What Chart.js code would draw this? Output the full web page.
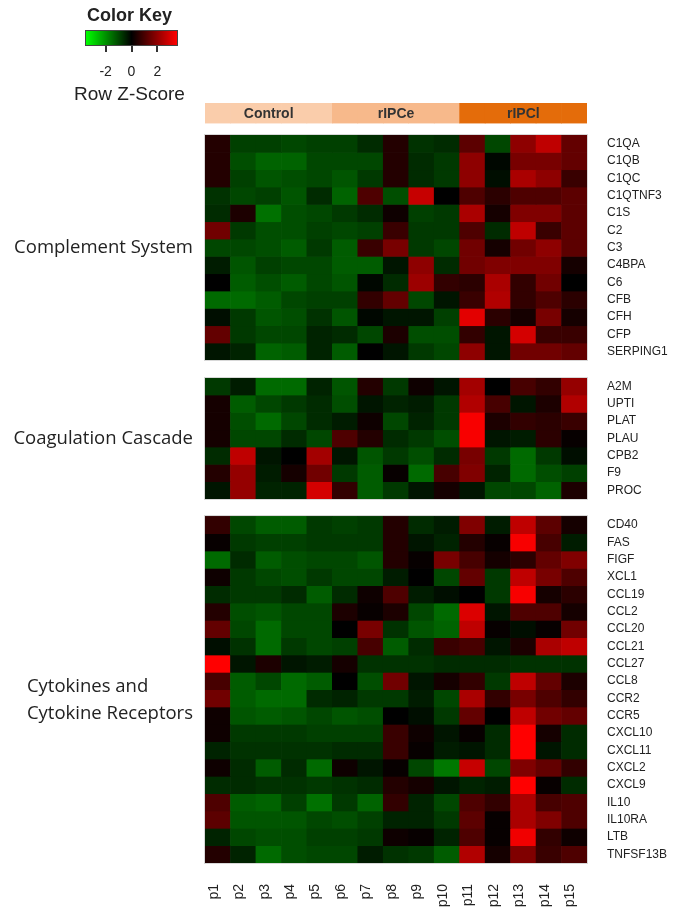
<!DOCTYPE html>
<html>
<head>
<meta charset="utf-8">
<script src="https://cdn.jsdelivr.net/npm/chart.js@4.4.0/dist/chart.umd.min.js"></script>
<style>
	html, body { margin: 0; padding: 0; background: #fff; }
	#wrap { position: relative; width: 677px; height: 918px; font-family: "Liberation Sans", Arial, sans-serif; color: #222; }
	#heat { position: absolute; left: 0; top: 0; }
	.key { position: absolute; white-space: nowrap; }
</style>
</head>
<body>
<div id="wrap">
	<canvas id="heat" width="677" height="918"></canvas>
	<div class="key" style="left:87px;top:5px;font-weight:bold;font-size:18px;">Color Key</div>
	<div class="key" id="keyBar" style="left:85px;top:30px;width:93px;height:16px;box-sizing:border-box;border:1px solid #444;"></div>
	<div class="key" style="left:74px;top:83px;font-size:19px;">Row Z-Score</div>
</div>
<script>
// Samples and treatment groups
const columns     = ['p1', 'p2', 'p3', 'p4', 'p5', 'p6', 'p7', 'p8', 'p9', 'p10', 'p11', 'p12', 'p13', 'p14', 'p15'];
const groups      = ['Control', 'rIPCe', 'rIPCl'];
const columnGroup = [0, 0, 0, 0, 0, 1, 1, 1, 1, 1, 2, 2, 2, 2, 2];
const groupColors = ['#FACDAB', '#F7B98B', '#E46C0A'];

// Colour key
const keyTicks = [-2, 0, 2];
const KEY_MAX = 3.6;

// Complement System
const complementGenes = ['C1QA', 'C1QB', 'C1QC', 'C1QTNF3', 'C1S', 'C2', 'C3', 'C4BPA', 'C6', 'CFB', 'CFH', 'CFP', 'SERPING1'];
const complementZ = [
	[0.5, -0.9, -0.9, -1.0, -0.9, -0.9, -0.6, 0.5, -0.7, -0.6, 1.3, -1.0, 2.0, 2.7, 1.4],
	[0.5, -1.1, -1.4, -1.4, -1.0, -1.0, -1.0, 0.5, -0.6, -0.8, 2.0, -0.1, 1.7, 1.7, 1.4],
	[0.5, -0.9, -1.2, -1.1, -1.0, -1.2, -0.8, 0.5, -0.6, -0.8, 2.0, -0.2, 2.4, 2.0, 0.8],
	[-0.7, -1.0, -0.9, -1.2, -0.6, -1.4, 1.1, -1.1, 2.8, 0.0, 1.1, 0.6, 1.1, 1.1, 1.3],
	[-0.6, 0.4, -1.6, -1.1, -1.0, -0.8, -0.6, 0.2, -0.9, -0.8, 2.4, 0.3, 1.8, 1.8, 1.3],
	[1.6, -0.8, -1.1, -1.1, -0.9, -1.0, -0.9, 0.8, -0.8, -0.8, 1.1, -0.6, 2.7, 0.8, 1.3],
	[-1.0, -1.0, -1.1, -1.3, -0.8, -1.3, 0.8, 1.7, -0.8, -1.0, 1.6, 0.3, 1.6, 2.0, 1.3],
	[-0.4, -1.2, -0.9, -1.0, -1.0, -1.3, -1.3, -0.3, 2.0, -0.6, 1.6, 1.8, 1.8, 1.8, 0.3],
	[0.0, -1.3, -1.1, -1.3, -1.0, -1.2, -0.1, -0.6, 2.2, 0.7, 0.6, 2.4, 0.7, 1.6, 0.0],
	[-1.5, -1.5, -1.3, -1.0, -0.9, -0.9, 0.7, 1.4, -1.0, -0.3, 0.8, 2.5, 0.7, 1.1, 0.6],
	[-0.2, -0.8, -1.2, -1.1, -0.7, -1.2, -0.1, -0.3, -0.3, -0.9, 3.2, 0.6, 0.3, 1.7, 0.3],
	[1.4, -0.8, -1.0, -1.0, -0.5, -0.6, -1.0, 0.4, -1.1, -1.1, 0.7, -0.3, 3.0, 0.8, 0.8],
	[-0.3, -0.5, -1.4, -1.3, -0.5, -1.3, 0.0, -0.3, -0.8, -1.0, 2.0, -0.3, 1.6, 1.6, 1.4],
];

// Coagulation Cascade
const coagulationGenes = ['A2M', 'UPTI', 'PLAT', 'PLAU', 'CPB2', 'F9', 'PROC'];
const coagulationZ = [
	[-0.8, -0.4, -1.5, -1.5, -0.5, -1.2, 0.5, -0.8, 0.2, -0.3, 2.3, 0.0, 1.0, 0.7, 2.1],
	[0.3, -1.3, -1.0, -0.8, -0.6, -1.1, -0.3, -0.5, -0.4, -0.8, 2.5, 1.0, -0.3, 0.4, 2.5],
	[0.3, -1.1, -1.5, -1.0, -0.6, -0.4, 0.2, -1.0, -0.5, -0.8, 3.5, 0.4, 0.7, 0.6, 0.8],
	[0.3, -1.0, -1.0, -0.6, -1.0, 1.1, 0.5, -0.6, -0.8, -1.1, 3.5, -0.3, -0.4, 0.6, 0.1],
	[-0.6, 2.7, -0.3, 0.0, 2.3, -0.3, -1.2, -0.8, -1.1, -0.6, 1.7, -0.8, -1.5, -0.8, -0.2],
	[0.5, 2.1, -0.4, 0.3, 1.6, -0.8, -1.3, 0.1, -1.5, 1.0, 1.8, -0.5, -1.5, -1.1, -0.9],
	[-0.3, 2.1, -0.5, -0.5, 3.0, 0.7, -1.3, -0.8, -0.3, 0.3, -0.3, -1.0, -1.0, -1.4, 0.4],
];

// Cytokines and Cytokine Receptors
const cytokineGenes = ['CD40', 'FAS', 'FIGF', 'XCL1', 'CCL19', 'CCL2', 'CCL20', 'CCL21', 'CCL27', 'CCL8',
	'CCR2', 'CCR5', 'CXCL10', 'CXCL11', 'CXCL2', 'CXCL9', 'IL10', 'IL10RA', 'LTB', 'TNFSF13B'];
const cytokineZ = [
	[0.7, -1.0, -1.3, -1.3, -0.8, -0.9, -0.8, 0.5, -0.6, -0.4, 1.8, -0.4, 2.7, 1.3, 0.3],
	[0.1, -0.8, -0.9, -0.9, -0.8, -0.8, -0.8, 0.5, -0.3, -0.5, 0.5, 0.1, 3.5, 1.0, -0.4],
	[-1.5, -0.6, -1.3, -1.1, -1.0, -1.0, -1.2, 0.5, 0.1, 1.7, 1.0, 0.3, 0.6, 1.4, 1.8],
	[0.2, -0.8, -1.0, -1.1, -0.8, -1.0, -1.0, -0.4, 0.0, -1.0, 1.4, -0.8, 2.7, 1.7, 1.1],
	[-0.6, -0.8, -0.8, -0.6, -1.3, -0.6, 0.2, 1.1, -0.4, -0.2, 0.0, -0.8, 3.5, 0.3, 0.6],
	[0.5, -1.1, -1.2, -1.0, -1.0, 0.4, 0.1, 0.4, -1.0, -1.5, 3.1, -0.3, 1.1, 1.1, 0.3],
	[1.4, -1.0, -1.5, -1.0, -1.0, 0.0, 1.7, -0.7, -1.2, -1.4, 2.7, 0.1, -0.2, 0.1, 1.6],
	[-0.2, -0.7, -1.5, -0.8, -1.0, -0.9, 1.0, -1.3, -0.6, 0.8, 1.0, -0.3, 0.4, 2.4, 2.7],
	[3.6, -0.3, 0.4, -0.3, -0.4, 0.3, -0.7, -0.7, -0.7, -0.6, -0.6, -0.6, -0.7, -0.7, -0.7],
	[1.0, -1.3, -1.0, -1.5, -1.3, 0.0, -1.1, 1.6, -0.3, 0.3, 0.7, -0.8, 2.7, 1.4, 0.4],
	[1.6, -1.3, -1.5, -1.5, -0.6, -0.5, -0.8, -0.8, -0.4, -1.0, 2.4, 0.7, 1.7, 1.1, 0.7],
	[0.2, -1.2, -1.3, -1.2, -1.0, -1.2, -1.1, 0.0, -0.2, -0.8, 1.4, 0.0, 2.7, 1.6, 1.4],
	[0.2, -0.8, -0.8, -0.8, -0.9, -0.9, -0.9, 0.8, 0.2, -0.3, 0.1, -0.6, 3.6, 0.3, -0.6],
	[-0.5, -0.7, -0.7, -0.7, -0.7, -0.6, -0.6, 0.8, 0.1, -0.4, -0.3, -0.6, 3.6, -0.3, -0.6],
	[0.2, -0.6, -1.3, -0.6, -1.5, 0.2, -0.3, 0.1, -1.0, -1.7, 2.8, -1.0, 1.8, 1.4, 0.7],
	[-0.6, -0.6, -0.7, -0.7, -0.8, -0.7, -0.6, 0.5, 0.3, -0.3, -0.5, -0.4, 3.6, 0.1, -0.6],
	[1.1, -1.3, -1.4, -0.9, -1.6, -0.8, -1.4, 0.7, -0.5, -1.0, 1.1, 0.7, 2.4, 1.0, 1.1],
	[1.3, -1.2, -1.2, -1.2, -1.0, -1.1, -0.9, -0.5, -0.5, -0.8, 1.3, 0.1, 2.4, 1.8, 1.1],
	[-0.5, -1.0, -1.1, -1.1, -0.9, -0.9, -0.8, 0.2, 0.1, -0.5, 1.1, 0.1, 3.4, 0.7, 0.2],
	[0.5, -0.5, -1.5, -1.1, -1.0, -1.0, -0.4, -0.7, -0.8, -1.3, 2.5, 0.3, 1.8, 0.8, 1.1],
];

const blockTitles = [['Complement System'], ['Coagulation Cascade'], ['Cytokines and', 'Cytokine Receptors']];

// Layout (in row units on the y axis)
const HEADER_TOP = -1.85;
const HEADER_BOTTOM = -0.69;
const BLOCK_GAP = 1;

// green - black - red like the R heatmap palette
const heatColor = (v) => {
	const t = Math.min(Math.abs(v) / KEY_MAX, 1);
	const c = Math.round(255 * t);
	return v < 0 ? `rgb(0,${c},0)` : `rgb(${c},0,0)`;
};

// Stack the three blocks with a gap between them
let blocks = [];
let rowStart = 0;
[[complementGenes, complementZ], [coagulationGenes, coagulationZ], [cytokineGenes, cytokineZ]].forEach(([genes, z], i) => {
	blocks.push({ genes: genes, z: z, start: rowStart, title: blockTitles[i] });
	rowStart += genes.length + BLOCK_GAP;
});
const Y_MAX = rowStart - BLOCK_GAP;

let rowNames = [];
let rowCenters = [];
let datasets = [];

// header strip with the group colours
datasets.push({
	data: columns.map(() => [HEADER_TOP, HEADER_BOTTOM]),
	backgroundColor: columnGroup.map(g => groupColors[g]),
});

blocks.forEach(block => {
	block.genes.forEach((gene, r) => {
		const pos = block.start + r;
		rowNames.push(gene);
		rowCenters.push(pos + 0.5);
		datasets.push({
			data: block.z[r].map(() => [pos, pos + 1]),
			backgroundColor: block.z[r].map(heatColor),
		});
	});
});

// Text drawn on top: group names in the strip, block outlines and block titles
const heatmapText = {
	id: 'heatmapText',
	afterDatasetsDraw(chart) {
		const { ctx, chartArea } = chart;
		const x = chart.scales.x;
		const y = chart.scales.y;
		ctx.save();

		ctx.font = 'bold 14px "Liberation Sans", Arial, sans-serif';
		ctx.fillStyle = '#333';
		ctx.textAlign = 'center';
		ctx.textBaseline = 'middle';
		groups.forEach((g, gi) => {
			const idx = columns.map((_, i) => i).filter(i => columnGroup[i] == gi);
			const cx = (x.getPixelForValue(idx[0]) + x.getPixelForValue(idx[idx.length - 1])) / 2;
			ctx.fillText(g, cx, y.getPixelForValue((HEADER_TOP + HEADER_BOTTOM) / 2) + 1);
		});

		blocks.forEach(block => {
			const top = y.getPixelForValue(block.start);
			const bottom = y.getPixelForValue(block.start + block.genes.length);
			ctx.strokeStyle = '#d8d8d8';
			ctx.lineWidth = 1;
			ctx.strokeRect(Math.round(chartArea.left) - 0.5, Math.round(top) - 0.5, Math.round(chartArea.width) + 1, Math.round(bottom - top) + 1);

			ctx.font = '18.5px "Open Sans", sans-serif';
			ctx.fillStyle = '#222';
			ctx.textAlign = 'left';
			const lineH = 27;
			const w = Math.max(...block.title.map(t => ctx.measureText(t).width));
			const shift = block.title.length > 1 ? 11 : 0;
			const firstY = (top + bottom) / 2 + shift - (block.title.length - 1) * lineH / 2;
			block.title.forEach((t, li) => ctx.fillText(t, 193 - w, firstY + li * lineH));
		});

		ctx.restore();
	}
};

const chart = new Chart(document.getElementById('heat'), {
	type: 'bar',
	data: { labels: columns, datasets: datasets },
	options: {
		responsive: false,
		animation: false,
		events: [],
		layout: { padding: { left: 205, top: 103, right: 0, bottom: 0 } },
		datasets: { bar: { grouped: false, barPercentage: 1, categoryPercentage: 1, borderWidth: 0 } },
		plugins: { legend: { display: false }, tooltip: { enabled: false } },
		scales: {
			x: {
				grid: { display: false, drawTicks: false },
				border: { display: false },
				ticks: {
					autoSkip: false, minRotation: 90, maxRotation: 90, padding: 21, labelOffset: -4,
					color: '#222', font: { family: '"Liberation Sans", Arial, sans-serif', size: 14 },
				},
				afterFit: (scale) => { scale.height = 55; },
			},
			y: {
				type: 'linear',
				position: 'right',
				reverse: true,
				min: HEADER_TOP,
				max: Y_MAX,
				grid: { display: false, drawTicks: false },
				border: { display: false },
				afterBuildTicks: (scale) => { scale.ticks = rowCenters.map(v => ({ value: v })); },
				ticks: {
					autoSkip: false, padding: 20,
					color: '#222', font: { family: '"Liberation Sans", Arial, sans-serif', size: 12 },
					callback: (value, index) => rowNames[index],
				},
				afterFit: (scale) => { scale.width = 90; },
			},
		},
	},
	plugins: [heatmapText],
});

// Colour key bar and ticks, from the same palette
const keyBar = document.getElementById('keyBar');
keyBar.style.background = `linear-gradient(to right, ${heatColor(-KEY_MAX)}, ${heatColor(0)}, ${heatColor(KEY_MAX)})`;
const wrap = document.getElementById('wrap');
keyTicks.forEach(t => {
	const px = 85 + (t + KEY_MAX) / (2 * KEY_MAX) * 93;
	let tick = document.createElement('div');
	tick.className = 'key';
	tick.style.cssText = `left:${px - 1}px;top:46px;width:2px;height:6px;background:#333;`;
	wrap.appendChild(tick);
	let lab = document.createElement('div');
	lab.className = 'key';
	lab.style.cssText = `left:${px - 15}px;width:30px;text-align:center;top:63px;font-size:14px;`;
	lab.textContent = t;
	wrap.appendChild(lab);
});
</script>
</body>
</html>
